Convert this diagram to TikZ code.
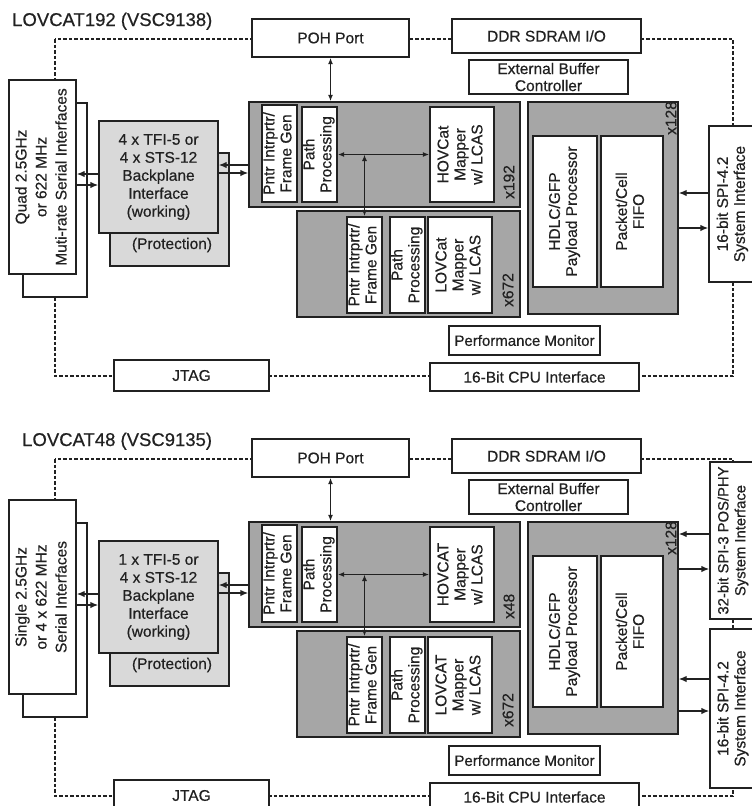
\documentclass[tikz,border=0pt]{standalone}
\usepackage{xcolor}
\usepackage{graphicx}
\usepackage{fontspec}
\setmainfont{Liberation Sans}[FakeBold=0.5]
\usepackage{tikz}
\usetikzlibrary{arrows.meta}
\usetikzlibrary{calc}

\definecolor{blockgray}{gray}{0.65}
\definecolor{bpgray}{gray}{0.85}
\definecolor{ink}{gray}{0.13}

\newcommand{\lbl}{\fontsize{15.5}{17}\selectfont}
\newcommand{\serfont}{\fontsize{15.5}{20}\selectfont}
\newcommand{\bpfont}{\fontsize{15.5}{18}\selectfont}
\newcommand{\ttlfont}{\fontsize{18.5}{20}\selectfont}
\newcommand{\vtxt}[1]{\rotatebox{90}{\begin{tabular}{@{}c@{}}#1\end{tabular}}}

\tikzset{
  sz/.style 2 args={minimum width=#1pt, minimum height=#2pt},
  blk/.style={draw=ink, fill=white, text=ink, line width=1.4pt, inner sep=0pt, font=\lbl, align=center},
  grayblk/.style={draw=ink, fill=blockgray, line width=1.4pt, inner sep=0pt},
  frame/.style={draw=ink, line width=1.2pt, dash pattern=on 3.5pt off 2pt},
  cnt/.style={font=\lbl, text=ink, rotate=90, inner sep=0pt},
  sig/.style={draw=ink, line width=1.4pt, -{Latex[length=8pt,width=6.5pt]}},
  bisig/.style={draw=ink, line width=1.4pt, {Latex[length=6.5pt,width=5pt]}-{Latex[length=6.5pt,width=5pt]}},
}

% one device: everything but the title and the system interfaces
\newcommand{\lovcat}[5]{%
  \draw[frame] (55,39) rectangle (733,376);
  \node[blk, sz={157}{38}] (poh) at (330.5,38) {POH Port};
  \node[blk, sz={189}{34}] (ddr) at (546.5,36) {DDR SDRAM I/O};
  \node[blk, sz={159}{34}] (ebc) at (548.5,77) {External Buffer\\Controller};
  \node[blk, sz={64}{194}] (serback) at (55,200) {};
  \node[blk, sz={67}{194}, font=\serfont] (ser) at (42.5,177) {\vtxt{#1}};
  \node[blk, fill=bpgray, sz={119}{113}] (bpback) at (169.5,209.5) {};
  \node[font=\lbl, text=ink] (prot) at (172,245) {(Protection)};
  \node[blk, fill=bpgray, sz={119}{112}, font=\bpfont] (bp) at (158.5,177) {#2\\4 x STS-12\\Backplane\\Interface\\(working)};
  % high order / low order blocks
  \node[grayblk, sz={271}{105}] (hoblk) at (384.5,154.5) {};
  \node[grayblk, sz={223}{106}] (loblk) at (408.5,264) {};
  \node[blk, sz={35}{97}] (hoptr) at (279.5,153.5) {\vtxt{Pntr Intrprtr/\\Frame Gen}};
  \node[blk, sz={35}{95}] (hopath) at (319.5,154.5) {\vtxt{Path\\Processing}};
  \node[blk, sz={64}{95}] (homap) at (462,154.5) {\vtxt{#4\\Mapper\\w/ LCAS}};
  \node[cnt, anchor=west] (hocnt) at (509,199) {#3};
  \node[blk, sz={35}{96}] (loptr) at (364.5,265) {\vtxt{Pntr Intrprtr/\\Frame Gen}};
  \node[blk, sz={35}{96}] (lopath) at (407.5,265) {\vtxt{Path\\Processing}};
  \node[blk, sz={64}{96}] (lomap) at (460,265) {\vtxt{#5\\Mapper\\w/ LCAS}};
  \node[cnt, anchor=west] (locnt) at (508,307) {x672};
  % packet side
  \node[grayblk, sz={150}{212}] (pkt) at (603,208) {};
  \node[cnt] (pktcnt) at (671,118) {x128};
  \node[blk, sz={64}{151}] (hdlc) at (565,211.5) {\vtxt{HDLC/GFP\\Payload Processor}};
  \node[blk, sz={62}{151}] (fifo) at (632,211.5) {\vtxt{Packet/Cell\\FIFO}};
  \node[blk, sz={151}{29}, font=\fontsize{15}{17}\selectfont] (perf) at (524.5,340.5) {Performance Monitor};
  \node[blk, sz={155}{31}] (jtag) at (191.5,375.5) {JTAG};
  \node[blk, sz={209}{28}] (cpu) at (534.5,377) {16-Bit CPU Interface};
  % connections
  \draw[sig] ([yshift=3pt]bp.west) -- ([yshift=3pt]bp.west -| ser.east);
  \draw[sig] ([yshift=-8pt]bp.west -| ser.east) -- ([yshift=-8pt]bp.west);
  \path ([yshift=12pt]bp.east) coordinate (bpa) ([yshift=4pt]bp.east) coordinate (bpb);
  \draw[sig] (bpa -| hoblk.west) -- (bpa);
  \draw[sig] (bpb) -- (bpb -| hoblk.west);
  \draw[bisig] (poh.south) -- (poh.south |- hoblk.north);
  \draw[bisig] (hopath.east) -- (homap.west);
  \draw[bisig] (loptr.north |- hopath.east) -- (loptr.north);
}

\begin{document}
\begin{tikzpicture}[x=1pt, y=-1pt]
\useasboundingbox (0,0) rectangle (752,806);
\clip (0,0) rectangle (752,806);
\fill[white] (0,0) rectangle (752,806);

% LOVCAT192
\begin{scope}[name prefix=a-]
\lovcat{Quad 2.5GHz\\or 622 MHz\\Muti-rate Serial Interfaces}{4 x TFI-5 or}{x192}{HOVCat}{LOVCat}
\node[font=\ttlfont, text=ink, anchor=base west, inner sep=0pt] (title) at (12,26) {LOVCAT192 (VSC9138)};
\node[blk, sz={48}{156}] (spi) at (733,204) {\vtxt{16-bit SPI-4.2\\System Interface}};
\path ([yshift=11pt]spi.west) coordinate (spia) ([yshift=-24pt]spi.west) coordinate (spib);
\draw[sig] (spia) -- (spia -| pkt.east);
\draw[sig] (spib -| pkt.east) -- (spib);
\end{scope}

% LOVCAT48
\begin{scope}[shift={(0,420)}, name prefix=b-]
\lovcat{Single 2.5GHz\\or 4 x 622 MHz\\Serial Interfaces}{1 x TFI-5 or}{x48}{HOVCAT}{LOVCAT}
\node[font=\ttlfont, text=ink, anchor=base west, inner sep=0pt] (title) at (22,26) {LOVCAT48 (VSC9135)};
\node[blk, sz={47}{157}, font=\fontsize{14.8}{17}\selectfont] (spithree) at (733.5,120.5) {\vtxt{32-bit SPI-3 POS/PHY\\System Interface}};
\node[blk, sz={47}{159}] (spi) at (733.5,288.5) {\vtxt{16-bit SPI-4.2\\System Interface}};
\path ([yshift=6.5pt]spithree.west) coordinate (spia) ([yshift=-28.5pt]spithree.west) coordinate (spib);
\draw[sig] (spia) -- (spia -| pkt.east);
\draw[sig] (spib -| pkt.east) -- (spib);
\path ([yshift=29.5pt]spi.west) coordinate (spic) ([yshift=-2.5pt]spi.west) coordinate (spid);
\draw[sig] (spic) -- (spic -| pkt.east);
\draw[sig] (spid -| pkt.east) -- (spid);
\end{scope}
\end{tikzpicture}
\end{document}
